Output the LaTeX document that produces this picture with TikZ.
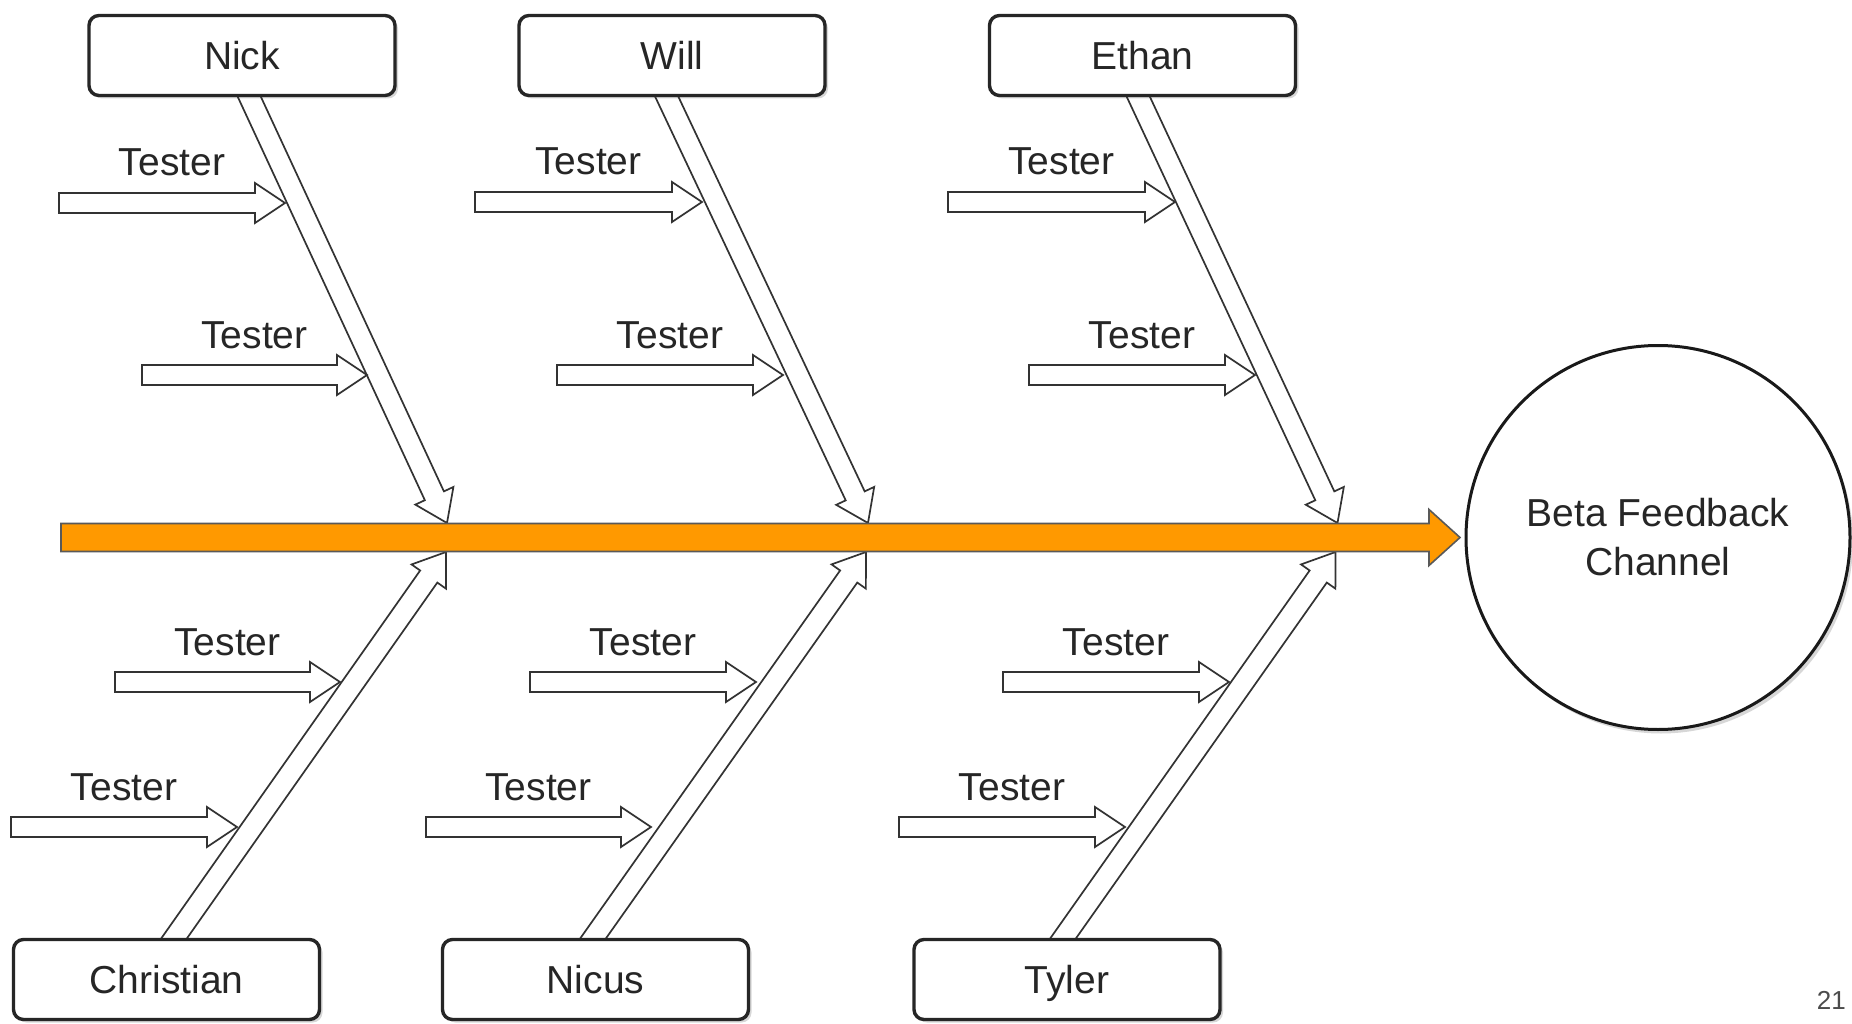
\documentclass[tikz,border=0pt]{standalone}
\usepackage{fontspec}
\setmainfont{Liberation Sans}
\usetikzlibrary{calc,shadows}

\pgfdeclarelayer{paper}
\pgfdeclarelayer{bg}
\pgfsetlayers{paper,bg,main}

\definecolor{spinefill}{HTML}{FF9900}
\definecolor{ink}{HTML}{333333}

\tikzset{
  person/.style={draw=black!85, line width=3.4pt, rounded corners=10pt, fill=white,
    minimum width=306pt, minimum height=80pt, inner sep=0pt,
    text height=28pt, text depth=0pt, text=black!85,
    font=\fontsize{39}{47}\selectfont,
    drop shadow={shadow xshift=3pt, shadow yshift=-3pt, opacity=0.22, fill=black!70}},
  goal/.style={circle, draw=black!90, line width=3pt, fill=white, minimum size=384pt,
    inner sep=0pt, align=center, text=black!85,
    font=\fontsize{39}{49}\selectfont,
    drop shadow={shadow xshift=3pt, shadow yshift=-4pt, opacity=0.22, fill=black!70}},
  barrow/.style={draw=ink, line width=1.7pt, fill=white, line join=miter},
  spinearrow/.style={draw=black!65, line width=1.6pt, fill=spinefill, line join=miter},
  tag/.style={anchor=base, inner sep=0pt, text=black!85, font=\fontsize{39}{47}\selectfont},
  pagenum/.style={anchor=base east, inner sep=0pt, text=black!70, font=\fontsize{26}{30}\selectfont},
}

% block arrow from tail #2 to tip #3: half shaft width #4, half head width #5, head length #6
\newcommand\blockarrow[6][barrow]{%
  \coordinate (hb) at ($(#3)!#6!(#2)$);
  \draw[#1] ($(#2)!#4!90:(#3)$) -- ($(hb)!#4!-90:(#2)$) -- ($(hb)!#5!-90:(#2)$) -- (#3)
    -- ($(hb)!#5!90:(#2)$) -- ($(hb)!#4!90:(#2)$) -- ($(#2)!#4!-90:(#3)$) -- cycle;%
}

\begin{document}
\begin{tikzpicture}[x=1pt,y=-1pt]
\useasboundingbox (0,0) rectangle (1852,1024);
\begin{pgfonlayer}{paper}
\fill[white] (0,0) rectangle (1852,1024);
\end{pgfonlayer}

% causes and effect
\node[person] (nick) at (242,55.5) {Nick};
\node[person] (will) at (672,55.5) {Will};
\node[person] (ethan) at (1142.5,55.5) {Ethan};
\node[person] (christian) at (166.5,979.5) {Christian};
\node[person] (nicus) at (595.5,979.5) {Nicus};
\node[person] (tyler) at (1067,979.5) {Tyler};
\node[goal] (goal) at (1658,537.5) {Beta Feedback\\Channel};

% main spine
\coordinate (spine-tail) at (61,537.5);
\coordinate (spine-tip) at ($(goal.west)+(-4.5,0)$);
\blockarrow[spinearrow]{spine-tail}{spine-tip}{14pt}{28pt}{31pt}

% bones from the people to the spine (tails hidden under the boxes)
\begin{pgfonlayer}{bg}
\foreach \who/\dx/\jx/\jy in {nick/7.5/447/523, will/-5/868/523, ethan/-4/1337.5/523}{
  \coordinate (\who-b) at ($(\who.south)+(\dx,0)$);
  \coordinate (\who-j) at (\jx,\jy);
  \coordinate (\who-t) at ($(\who-b)!-25pt!(\who-j)$);
  \blockarrow{\who-t}{\who-j}{10.5pt}{21pt}{30pt}
}
\foreach \who/\dx/\jx/\jy in {christian/8/446/552, nicus/-2/866/552, tyler/-3.5/1335.5/552}{
  \coordinate (\who-b) at ($(\who.north)+(\dx,0)$);
  \coordinate (\who-j) at (\jx,\jy);
  \coordinate (\who-t) at ($(\who-b)!-25pt!(\who-j)$);
  \blockarrow{\who-t}{\who-j}{10.5pt}{21pt}{30pt}
}
\end{pgfonlayer}

% tester arrows feeding each bone
\foreach \tx/\hx/\yy [count=\i] in {
  59/285/203, 475/702/202, 948/1175/202,
  142/367/375, 557/783/375, 1029/1255/375,
  115/340/682, 530/756/682, 1003/1229/682,
  11/237/827, 426/651/827, 899/1125/827}{
  \coordinate (tt-\i) at (\tx,\yy);
  \coordinate (th-\i) at (\hx,\yy);
  \blockarrow{tt-\i}{th-\i}{10pt}{20pt}{30pt}
  \node[tag] (tester-\i) at ({(\tx+\hx)/2},\yy-27) {Tester};
}

\node[pagenum] (page) at (1846,1009) {21};
\end{tikzpicture}
\end{document}
